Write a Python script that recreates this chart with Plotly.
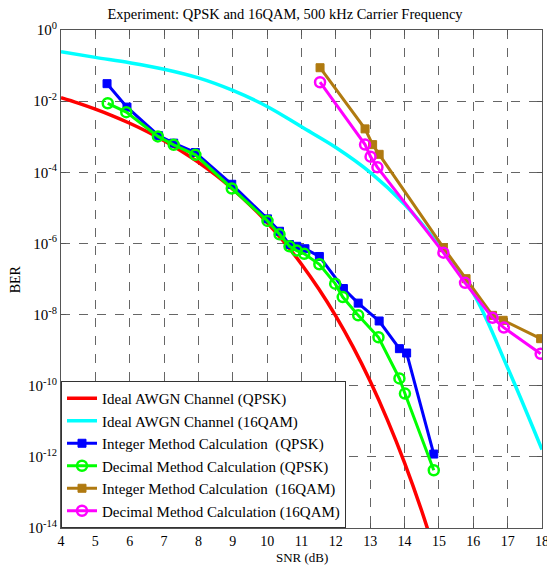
import plotly.graph_objects as go

# Ideal AWGN QPSK
snr_qpsk_ideal = [4, 4.5, 5, 5.5, 6, 6.5, 7, 7.5, 8, 8.5, 9, 9.5, 10, 10.5, 11, 11.5, 12, 12.5, 13, 13.5, 14, 14.5, 15]
ber_qpsk_ideal = [1.25e-2, 8.8e-3, 5.95e-3, 3.86e-3, 2.39e-3, 1.4e-3, 7.73e-4, 3.98e-4, 1.91e-4, 8.4e-5,
                  3.36e-5, 1.21e-5, 3.87e-6, 1.08e-6, 2.61e-7, 5.3e-8, 9.0e-9, 1.23e-9, 1.33e-10, 1.1e-11,
                  6.8e-13, 3.0e-14, 9e-16]

# Ideal AWGN 16QAM
snr_qam_ideal = [4, 5, 6, 7, 8, 9, 10, 11, 12, 13, 14, 15, 16, 17, 18]
ber_qam_ideal = [2.45e-1, 1.7e-1, 1.2e-1, 7.9e-2, 4.5e-2, 2.0e-2, 7.1e-3, 1.9e-3, 5.0e-4, 1.0e-4,
                 1.26e-5, 8.9e-7, 4.0e-8, 3.2e-10, 1.6e-12]

# Integer method QPSK
snr_int_qpsk = [5.34, 5.92, 6.84, 7.28, 7.91, 8.97, 10.01, 10.36, 10.65, 10.86, 11.10, 11.52, 12.22, 12.65,
                13.26, 13.85, 14.06, 14.85]
ber_int_qpsk = [3.1e-2, 6.8e-3, 1.07e-3, 6.6e-4, 3.6e-4, 4.6e-5, 4.9e-6, 2.2e-6, 9.3e-7, 8.3e-7, 7.1e-7,
                4.3e-7, 5.4e-8, 2.1e-8, 6.6e-9, 1.1e-9, 8.3e-10, 1.2e-12]

# Decimal method QPSK
snr_dec_qpsk = [5.36, 5.90, 6.82, 7.28, 7.91, 8.97, 10.01, 10.36, 10.65, 10.86, 11.08, 11.52, 11.98, 12.2,
                12.65, 13.24, 13.85, 14.01, 14.85]
ber_dec_qpsk = [8.7e-3, 4.9e-3, 1.02e-3, 5.9e-4, 3.1e-4, 3.5e-5, 4.3e-6, 1.8e-6, 8.3e-7, 6.3e-7, 5.1e-7,
                2.6e-7, 7.4e-8, 3.1e-8, 9.5e-9, 2.3e-9, 1.6e-10, 6.0e-11, 4.2e-13]

# Integer method 16QAM
snr_int_qam = [11.54, 12.85, 13.07, 13.26, 15.13, 15.79, 16.56, 16.87, 17.96]
ber_int_qam = [8.7e-2, 1.66e-3, 6.0e-4, 3.2e-4, 7.6e-7, 1.02e-7, 9.5e-9, 6.9e-9, 2.1e-9]

# Decimal method 16QAM
snr_dec_qam = [11.54, 12.85, 13.01, 13.21, 15.13, 15.76, 16.56, 16.89, 17.96]
ber_dec_qam = [3.4e-2, 6.0e-4, 2.75e-4, 1.38e-4, 5.5e-7, 7.8e-8, 8.1e-9, 4.3e-9, 7.9e-10]

x_ticks = list(range(4, 19))
y_tick_exp = [0, -2, -4, -6, -8, -10, -12, -14]

FONT = "Liberation Serif, Times New Roman, serif"

fig = go.Figure()
fig.add_trace(go.Scatter(x=snr_qpsk_ideal, y=ber_qpsk_ideal, mode="lines", name="Ideal AWGN Channel (QPSK)",
                         line=dict(color="#FF0000", width=3.5, shape="spline")))
fig.add_trace(go.Scatter(x=snr_qam_ideal, y=ber_qam_ideal, mode="lines", name="Ideal AWGN Channel (16QAM)",
                         line=dict(color="#00FFFF", width=3.5, shape="spline")))
fig.add_trace(go.Scatter(x=snr_int_qpsk, y=ber_int_qpsk, mode="lines+markers",
                         name="Integer Method Calculation  (QPSK)",
                         line=dict(color="#0000FF", width=3),
                         marker=dict(symbol="square", size=8, color="#0000FF",
                                     line=dict(color="#0000FF", width=1))))
fig.add_trace(go.Scatter(x=snr_dec_qpsk, y=ber_dec_qpsk, mode="lines+markers",
                         name="Decimal Method Calculation (QPSK)",
                         line=dict(color="#00FF00", width=3),
                         marker=dict(symbol="circle-open", size=10, color="#00FF00",
                                     line=dict(color="#00FF00", width=2.5))))
fig.add_trace(go.Scatter(x=snr_int_qam, y=ber_int_qam, mode="lines+markers",
                         name="Integer Method Calculation  (16QAM)",
                         line=dict(color="#B07A10", width=3),
                         marker=dict(symbol="square", size=8, color="#B07A10",
                                     line=dict(color="#B07A10", width=1))))
fig.add_trace(go.Scatter(x=snr_dec_qam, y=ber_dec_qam, mode="lines+markers",
                         name="Decimal Method Calculation (16QAM)",
                         line=dict(color="#FF00FF", width=3),
                         marker=dict(symbol="circle-open", size=10, color="#FF00FF",
                                     line=dict(color="#FF00FF", width=2.5))))

fig.update_layout(
    width=547, height=565,
    margin=dict(l=61, r=5, t=30, b=37),
    paper_bgcolor="white", plot_bgcolor="white",
    font=dict(family=FONT, size=14, color="black"),
    title=dict(text="Experiment: QPSK and 16QAM, 500 kHz Carrier Frequency",
               x=0.521, xanchor="center", y=0.975, yanchor="middle",
               font=dict(family=FONT, size=14.5, color="black")),
    showlegend=True,
    legend=dict(x=0, y=0, xanchor="left", yanchor="bottom",
                bgcolor="white", bordercolor="#333", borderwidth=1,
                font=dict(family=FONT, size=15, color="black"),
                tracegroupgap=0, itemwidth=30),
    annotations=[
        dict(text="SNR (dB)", xref="paper", yref="paper", x=0.5, y=-0.059,
             xanchor="center", yanchor="middle", showarrow=False,
             font=dict(family=FONT, size=13)),
        dict(text="BER", xref="paper", yref="paper", x=-0.095, y=0.5,
             xanchor="center", yanchor="middle", showarrow=False, textangle=-90,
             font=dict(family=FONT, size=14)),
    ],
)
fig.update_xaxes(
    range=[4, 18], tickvals=x_ticks, ticktext=[str(v) for v in x_ticks],
    showgrid=True, gridcolor="#666", griddash="dash", gridwidth=1,
    showline=True, linecolor="#555", linewidth=1, mirror="ticks",
    ticks="inside", ticklen=5, tickcolor="#555",
    zeroline=False, automargin=False, ticklabeloverflow="allow",
    tickfont=dict(family=FONT, size=14),
)
fig.update_yaxes(
    type="log", range=[-14, 0],
    tickvals=[10.0 ** e for e in y_tick_exp],
    ticktext=["10<sup>%d</sup>" % e for e in y_tick_exp],
    showgrid=True, gridcolor="#666", griddash="dash", gridwidth=1,
    showline=True, linecolor="#555", linewidth=1, mirror="ticks",
    ticks="inside", ticklen=5, tickcolor="#555",
    zeroline=False, automargin=False, ticklabeloverflow="allow",
    tickfont=dict(family=FONT, size=15),
)

fig.write_html("out.html", config={"displayModeBar": False},
               post_script="document.body.style.margin='0px';")
